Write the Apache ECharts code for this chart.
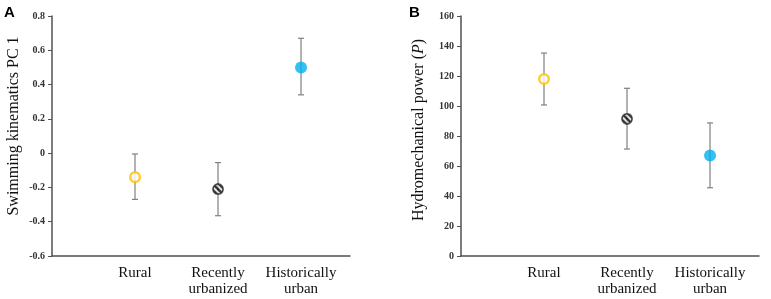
<!DOCTYPE html>
<html>
<head>
<meta charset="utf-8">
<script src="https://cdn.jsdelivr.net/npm/echarts@6/dist/echarts.min.js"></script>
<style>
  html, body { margin: 0; padding: 0; background: #fff; }
  #main { width: 771px; height: 299px; }
</style>
</head>
<body>
<div id="main"></div>
<script>
// categories along x (placed at 1, 2, 3)
var categories = ['Rural', 'Recently\nurbanized', 'Historically\nurban'];

// panel A: swimming kinematics PC 1 (mean, lower and upper error)
var pcMean = [-0.14, -0.21, 0.50];
var pcLow  = [-0.27, -0.365, 0.34];
var pcHigh = [-0.005, -0.055, 0.67];

// panel B: hydromechanical power
var powMean = [118, 91.5, 67];
var powLow  = [100.7, 71.3, 45.5];
var powHigh = [135.3, 111.8, 88.7];

var serif = '"Liberation Serif", "DejaVu Serif", serif';

// hatched marker for "recently urbanized": black disc with white "\" stripes
function hatchedMarker() {
    var s = 48, c = s / 2, r = c - 1;
    var cv = document.createElement('canvas');
    cv.width = s; cv.height = s;
    var g = cv.getContext('2d');
    g.fillStyle = '#000';
    g.beginPath(); g.arc(c, c, r, 0, Math.PI * 2); g.fill();
    g.save();
    g.beginPath(); g.arc(c, c, r - 6, 0, Math.PI * 2); g.clip();
    g.strokeStyle = '#fff';
    g.lineWidth = 7;
    [-8.5, 8.5].forEach(function (d) {
        var ox = d / Math.SQRT2, oy = -d / Math.SQRT2;
        g.beginPath();
        g.moveTo(ox - s, oy - s); g.lineTo(ox + 2 * s, oy + 2 * s);
        g.stroke();
    });
    g.restore();
    return 'image://' + cv.toDataURL();
}

var markerStyles = [
    { symbol: 'circle', symbolSize: 9.6, itemStyle: { color: '#fff', borderColor: '#FFC000', borderWidth: 2.5 } },
    { symbol: hatchedMarker(), symbolSize: 12 },
    { symbol: 'circle', symbolSize: 12, itemStyle: { color: '#00B0F0', borderWidth: 0 } }
];

function points(means) {
    return means.map(function (m, i) {
        return Object.assign({ value: [i + 1, m] }, markerStyles[i]);
    });
}
function bars(low, high) {
    return low.map(function (l, i) { return [i + 1, l, high[i]]; });
}

function errorItem(params, api) {
    var x = api.value(0);
    var lo = api.coord([x, api.value(1)]);
    var hi = api.coord([x, api.value(2)]);
    var cap = 3;
    var capStyle = { stroke: '#7f7f7f', lineWidth: 1.2 };
    return {
        type: 'group',
        children: [
            { type: 'line', shape: { x1: lo[0], y1: lo[1], x2: hi[0], y2: hi[1] }, style: { stroke: '#a0a0a0', lineWidth: 1.6 } },
            { type: 'line', shape: { x1: lo[0] - cap, y1: lo[1], x2: lo[0] + cap, y2: lo[1] }, style: capStyle },
            { type: 'line', shape: { x1: hi[0] - cap, y1: hi[1], x2: hi[0] + cap, y2: hi[1] }, style: capStyle }
        ]
    };
}

var axisLine = { show: true, onZero: false, lineStyle: { color: '#505050', width: 1.5 } };

function xAxis(idx) {
    return {
        type: 'value', gridIndex: idx, min: 0, max: 3.59, interval: 1,
        axisLine: axisLine, axisTick: { show: false }, splitLine: { show: false },
        axisLabel: {
            margin: 9, showMaxLabel: false,
            fontFamily: serif, fontSize: 15, color: '#111', lineHeight: 16,
            formatter: function (v) { return categories[v - 1] || ''; }
        }
    };
}

var option = {
    animation: false,
    backgroundColor: '#fff',
    grid: [
        { left: 52, top: 16, width: 298, height: 240 },
        { left: 461, top: 16, width: 298, height: 240 }
    ],
    xAxis: [xAxis(0), xAxis(1)],
    yAxis: [
        {
            type: 'value', gridIndex: 0, min: -0.6, max: 0.8, interval: 0.2,
            name: 'Swimming kinematics PC 1', nameLocation: 'middle', nameGap: 30,
            nameTextStyle: { fontFamily: serif, fontSize: 16, color: '#111', padding: [0, 0, 0, 20] },
            axisLine: axisLine, axisTick: { show: true, length: 4, lineStyle: { color: '#505050' } },
            splitLine: { show: false },
            axisLabel: {
                margin: 7, fontFamily: serif, fontSize: 10, fontWeight: 'bold', color: '#333',
                formatter: function (v) { return Math.abs(v) < 1e-9 ? '0' : v.toFixed(1); }
            }
        },
        {
            type: 'value', gridIndex: 1, min: 0, max: 160, interval: 20,
            name: 'Hydromechanical power ({i|P})', nameLocation: 'middle', nameGap: 34,
            nameTextStyle: {
                fontFamily: serif, fontSize: 16, color: '#111', padding: [0, 0, 0, 12],
                rich: { i: { fontFamily: serif, fontSize: 16, fontStyle: 'italic', color: '#111' } }
            },
            axisLine: axisLine, axisTick: { show: true, length: 4, lineStyle: { color: '#505050' } },
            splitLine: { show: false },
            axisLabel: { margin: 7, fontFamily: serif, fontSize: 10, fontWeight: 'bold', color: '#333' }
        }
    ],
    graphic: [
        { type: 'text', left: 4, top: 5, style: { text: 'A', font: 'bold 15px "Liberation Sans", Arial, sans-serif', fill: '#000' } },
        { type: 'text', left: 409, top: 5, style: { text: 'B', font: 'bold 15px "Liberation Sans", Arial, sans-serif', fill: '#000' } }
    ],
    series: [
        { type: 'custom', xAxisIndex: 0, yAxisIndex: 0, renderItem: errorItem, data: bars(pcLow, pcHigh), z: 1 },
        { type: 'scatter', xAxisIndex: 0, yAxisIndex: 0, data: points(pcMean), z: 3 },
        { type: 'custom', xAxisIndex: 1, yAxisIndex: 1, renderItem: errorItem, data: bars(powLow, powHigh), z: 1 },
        { type: 'scatter', xAxisIndex: 1, yAxisIndex: 1, data: points(powMean), z: 3 }
    ]
};

var myChart = echarts.init(document.getElementById('main'));
myChart.setOption(option, true);
</script>
</body>
</html>
